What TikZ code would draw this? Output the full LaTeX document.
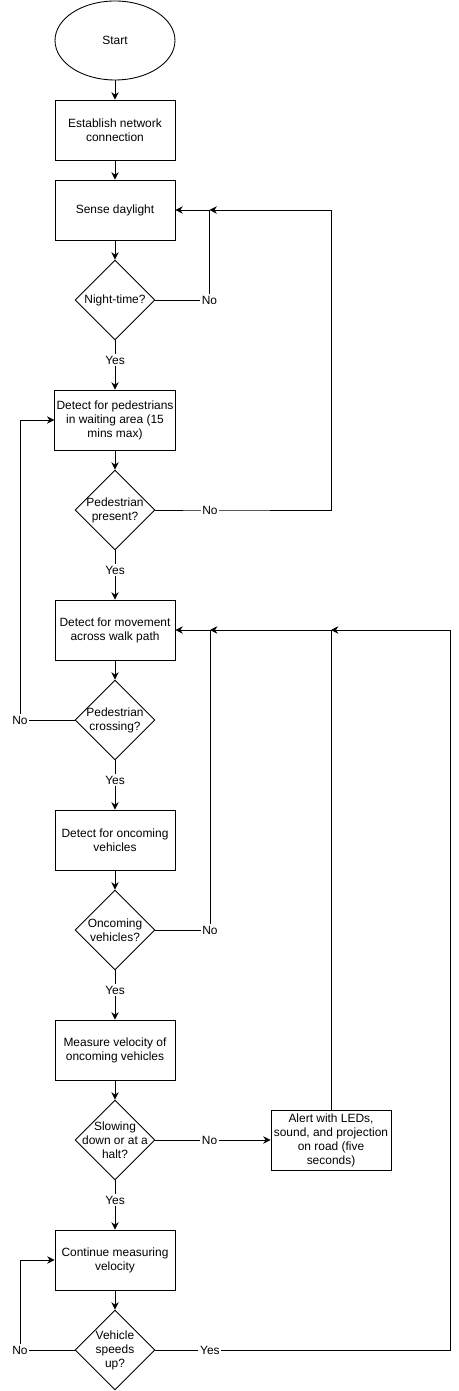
\documentclass[tikz,border=0pt]{standalone}
\usepackage{fontspec}
\setmainfont{Liberation Sans}
\usetikzlibrary{arrows.meta,shapes.geometric}
\tikzset{
  proc/.style={draw, minimum width=2.4cm, minimum height=1.2cm, inner sep=1pt, align=center},
  dec/.style={draw, diamond, minimum width=1.6cm, minimum height=1.6cm, inner sep=-6pt, align=center},
  term/.style={draw, ellipse, minimum width=2.4cm, minimum height=1.58cm, inner sep=0pt},
  flow/.style={-{Stealth[length=4.2pt,width=4.2pt]}},
  tag/.style={fill=white, inner sep=1pt},
}

\begin{document}
\begin{tikzpicture}[x=0.02cm, y=-0.02cm, line width=0.5pt, font=\fontsize{6.8}{8}\selectfont]
        \useasboundingbox (0,0) rectangle (459,1391);
        % main column
        \node[term] (start) at (115,40.5) {Start};
        \node[proc] (estab) at (115,130) {Establish network\\connection};
        \node[proc] (sense) at (115,210) {Sense daylight};
        \node[dec] (night) at (115,300) {Night-time?};
        \node[proc] (waitdet) at (115,420) {Detect for pedestrians\\in waiting area (15\\mins max)};
        \node[dec] (present) at (115,510) {Pedestrian\\present?};
        \node[proc] (movedet) at (115,630) {Detect for movement\\across walk path};
        \node[dec] (crossing) at (115,720) {Pedestrian\\crossing?};
        \node[proc] (vehdet) at (115,840) {Detect for oncoming\\vehicles};
        \node[dec] (oncoming) at (115,930) {Oncoming\\vehicles?};
        \node[proc] (measure) at (115,1050) {Measure velocity of\\oncoming vehicles};
        \node[dec] (slowing) at (115,1140) {Slowing\\down or at a\\halt?};
        \node[proc] (alert) at (331,1140) {Alert with LEDs,\\sound, and projection\\on road (five\\seconds)};
        \node[proc] (contin) at (115,1260) {Continue measuring\\velocity};
        \node[dec] (speeds) at (115,1350) {Vehicle\\speeds\\up?};
        % loop corners
        \coordinate (ret1) at (209.5,210);
        \coordinate (ret2) at (331,210);
        \coordinate (ret3) at (20,420);
        \coordinate (ret4) at (210,630);
        \coordinate (ret5) at (331,630);
        \coordinate (ret6) at (20,1260);
        \coordinate (ret7) at (450,630);
        % straight flow
        \draw[flow] (start.south) -- (estab.north);
        \draw[flow] (estab.south) -- (sense.north);
        \draw[flow] (sense.south) -- (night.north);
        \draw[flow] (night.south) -- node[tag,pos=0.4]{Yes} (waitdet.north);
        \draw[flow] (waitdet.south) -- (present.north);
        \draw[flow] (present.south) -- node[tag,pos=0.4]{Yes} (movedet.north);
        \draw[flow] (movedet.south) -- (crossing.north);
        \draw[flow] (crossing.south) -- node[tag,pos=0.4]{Yes} (vehdet.north);
        \draw[flow] (vehdet.south) -- (oncoming.north);
        \draw[flow] (oncoming.south) -- node[tag,pos=0.4]{Yes} (measure.north);
        \draw[flow] (measure.south) -- (slowing.north);
        \draw[flow] (slowing.south) -- node[tag,pos=0.4]{Yes} (contin.north);
        \draw[flow] (contin.south) -- (speeds.north);
        \draw[flow] (slowing.east) -- node[tag,pos=0.47]{No} (alert.west);
        % loops back
        \draw[flow] (night.east) -| node[tag,pos=0.5]{No} (ret1) -- (sense.east);
        \draw[flow] (present.east) -- ++(54.5,0) node[tag]{No} -| (ret2) -- (ret1);
        \draw[flow] (crossing.west) -| node[tag,pos=0.5]{No} (ret3) -- (waitdet.west);
        \draw[flow] (oncoming.east) -| node[tag,pos=0.5]{No} (ret4) -- (movedet.east);
        \draw[flow] (alert.north) -- (ret5) -- (ret4);
        \draw[flow] (speeds.west) -| node[tag,pos=0.5]{No} (ret6) -- (contin.west);
        \draw[flow] (speeds.east) -- ++(54.5,0) node[tag]{Yes} -| (ret7) -- (ret5);
      \end{tikzpicture}
\end{document}
